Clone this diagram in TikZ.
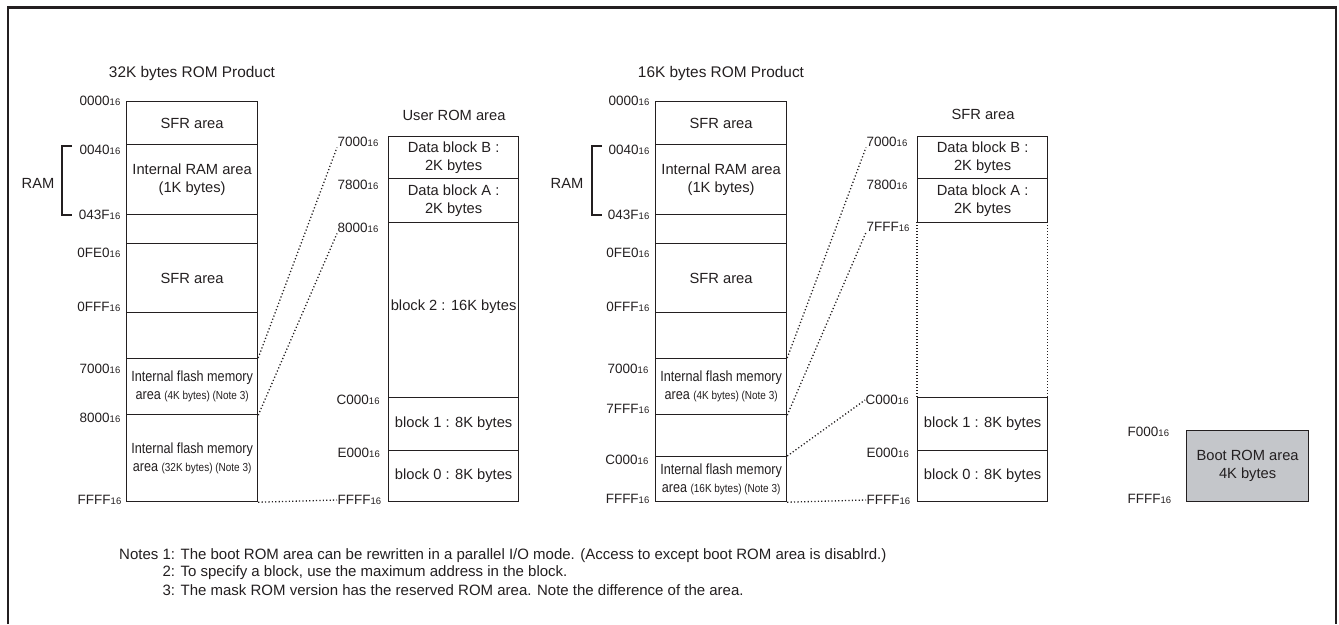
\documentclass[tikz,border=0pt]{standalone}
\usepackage{graphicx}
\usepackage{fontspec}
\setmainfont{Liberation Sans}
\definecolor{ink}{HTML}{231F20}
\definecolor{bootgray}{HTML}{C4C6CA}
\newcommand\myfs[2][]{\fontsize{#2}{18}\selectfont}
\newcommand\hexa[1]{#1{\fontsize{9.5}{10}\selectfont 16}}
\newcommand\memrect[7][]{\node[mem,#1,anchor=north west,minimum width={#4pt-#2pt},minimum height={#5pt-#3pt}] (#6) at (#2,#3) {#7};}
\newcommand\flashtxt[1]{\scalebox{0.86}[1]{Internal flash memory}\\\scalebox{0.86}[1]{area {\fontsize{11.6}{12}\selectfont #1}}}
\begin{document}
\begin{tikzpicture}[x=1pt,y=-1pt,
  mem/.style={draw=ink,line width=1.2pt,rectangle,inner sep=0pt,align=center,font=\myfs{14.7},text=ink},
  addr/.style={inner sep=0.5pt,font=\myfs{13.5},text=ink},
  ttl/.style={inner sep=0pt,font=\myfs{14.7},text=ink},
  bigttl/.style={inner sep=0pt,font=\myfs{15.4},text=ink},
  conn/.style={draw=ink,line width=1.3pt,dash pattern=on 1.2pt off 2.2pt},
  side/.style={draw=ink,line width=1.3pt,dash pattern=on 1.2pt off 1.8pt},
  note/.style={inner sep=0pt,anchor=west,font=\myfs{15},text=ink}]
\useasboundingbox (0,0) rectangle (1339,624);
% frame
\draw[ink,line width=2.5pt] (8,624) -- (8,7.5) -- (1336,7.5) -- (1336,624);

% titles
\node[bigttl] (t1) at (192,74) {32K bytes ROM Product};
\node[ttl] (t2) at (454,115) {User ROM area};
\node[bigttl] (t3) at (721,74) {16K bytes ROM Product};
\node[ttl] (t4) at (983,114) {SFR area};

% column 1
\memrect{126}{101}{257}{144}{c1sfr}{SFR area}
\memrect{126}{144}{257}{214}{c1ram}{Internal RAM area\\(1K bytes)}
\memrect{126}{214}{257}{243}{c1gapa}{}
\memrect{126}{243}{257}{312}{c1sfrb}{SFR area}
\memrect{126}{312}{257}{358}{c1gapb}{}
\memrect{126}{358}{257}{414}{c1fl}{\raisebox{-3pt}{\begin{tabular}{@{}c@{}}\flashtxt{(4K bytes) (Note 3)}\end{tabular}}}
\memrect{126}{414}{257}{501}{c1flb}{\flashtxt{(32K bytes) (Note 3)}}

\node[addr,anchor=east] (a1a) at (121,101) {\hexa{0000}};
\node[addr,anchor=east] (a1b) at (121,150) {\hexa{0040}};
\node[addr,anchor=east] (a1c) at (121,215) {\hexa{043F}};
\node[addr,anchor=east] (a1d) at (121,253) {\hexa{0FE0}};
\node[addr,anchor=east] (a1e) at (121,307) {\hexa{0FFF}};
\node[addr,anchor=east] (a1f) at (121,369) {\hexa{7000}};
\node[addr,anchor=east] (a1g) at (121,418) {\hexa{8000}};
\node[addr,anchor=east] (a1h) at (122,500) {\hexa{FFFF}};
\node[ttl] (ram1) at (38,183) {RAM};
\draw[ink,line width=1.2pt] (72,146) -- (62,146) -- (62,215) -- (72,215);

% column 2
\memrect{388}{136}{518}{178}{c2b}{Data block B :\\2K bytes}
\memrect{388}{178}{518}{222}{c2a}{Data block A :\\2K bytes}
\memrect{388}{222}{518}{397}{c2k2}{\raisebox{10pt}{block 2 : 16K bytes}}
\memrect{388}{397}{518}{450}{c2k1}{block 1 : 8K bytes}
\memrect{388}{450}{518}{501}{c2k0}{block 0 : 8K bytes}

\node[addr,anchor=west] (a2a) at (337,142) {\hexa{7000}};
\node[addr,anchor=west] (a2b) at (337,185) {\hexa{7800}};
\node[addr,anchor=west] (a2c) at (337,228) {\hexa{8000}};
\node[addr,anchor=west] (a2d) at (336,400) {\hexa{C000}};
\node[addr,anchor=west] (a2e) at (337,453) {\hexa{E000}};
\node[addr,anchor=west] (a2f) at (337,500) {\hexa{FFFF}};

\draw[conn] (c1fl.north east) -- (a2a.south west);
\draw[conn] (c1fl.south east) -- (a2c.south west);
\draw[conn] (c1flb.south east) -- (a2f.west);

% column 3
\memrect{655}{101}{786}{144}{c3sfr}{SFR area}
\memrect{655}{144}{786}{214}{c3ram}{Internal RAM area\\(1K bytes)}
\memrect{655}{214}{786}{243}{c3gapa}{}
\memrect{655}{243}{786}{312}{c3sfrb}{SFR area}
\memrect{655}{312}{786}{358}{c3gapb}{}
\memrect{655}{358}{786}{414}{c3fl}{\raisebox{-3pt}{\begin{tabular}{@{}c@{}}\flashtxt{(4K bytes) (Note 3)}\end{tabular}}}
\memrect{655}{414}{786}{456}{c3gapc}{}
\memrect{655}{456}{786}{501}{c3flb}{\flashtxt{(16K bytes) (Note 3)}}

\node[addr,anchor=east] (a3a) at (650,101) {\hexa{0000}};
\node[addr,anchor=east] (a3b) at (650,150) {\hexa{0040}};
\node[addr,anchor=east] (a3c) at (650,215) {\hexa{043F}};
\node[addr,anchor=east] (a3d) at (650,253) {\hexa{0FE0}};
\node[addr,anchor=east] (a3e) at (650,307) {\hexa{0FFF}};
\node[addr,anchor=east] (a3f) at (649,369) {\hexa{7000}};
\node[addr,anchor=east] (a3g) at (650,409) {\hexa{7FFF}};
\node[addr,anchor=east] (a3h) at (649,460) {\hexa{C000}};
\node[addr,anchor=east] (a3i) at (650,499) {\hexa{FFFF}};
\node[ttl] (ram3) at (567,183) {RAM};
\draw[ink,line width=1.2pt] (602,146) -- (592,146) -- (592,215) -- (602,215);

% column 4
\memrect{917}{136}{1047}{178}{c4b}{Data block B :\\2K bytes}
\memrect{917}{178}{1047}{222}{c4a}{Data block A :\\2K bytes}
\node[inner sep=0pt,anchor=north west,minimum width=130pt,minimum height=175pt] (c4mid) at (917,222) {};
\memrect{917}{397}{1047}{450}{c4k1}{block 1 : 8K bytes}
\memrect{917}{450}{1047}{501}{c4k0}{block 0 : 8K bytes}
\draw[side] (c4mid.north west) -- (c4mid.south west);
\draw[side] (c4mid.north east) -- (c4mid.south east);

\node[addr,anchor=west] (a4a) at (866,142) {\hexa{7000}};
\node[addr,anchor=west] (a4b) at (866,185) {\hexa{7800}};
\node[addr,anchor=west] (a4c) at (866,227) {\hexa{7FFF}};
\node[addr,anchor=west] (a4d) at (865,400) {\hexa{C000}};
\node[addr,anchor=west] (a4e) at (866,453) {\hexa{E000}};
\node[addr,anchor=west] (a4f) at (866,500) {\hexa{FFFF}};

\draw[conn] (c3fl.north east) -- (a4a.south west);
\draw[conn] (c3fl.south east) -- (a4c.south west);
\draw[conn] (c3flb.north east) -- (a4d.west);
\draw[conn] (c3flb.south east) -- (a4f.west);

% boot ROM
\memrect[fill=bootgray]{1186}{430}{1308}{501}{boot}{Boot ROM area\\4K bytes}
\node[addr,anchor=west] (a5a) at (1127,432) {\hexa{F000}};
\node[addr,anchor=west] (a5b) at (1127,499) {\hexa{FFFF}};

% notes
\node[note] (n1) at (119,556) {Notes 1: The boot ROM area can be rewritten in a parallel I/O mode. (Access to except boot ROM area is disablrd.)};
\node[note] (n2) at (119,573) {\phantom{Notes }2: To specify a block, use the maximum address in the block.};
\node[note] (n3) at (119,590) {\phantom{Notes }3: The mask ROM version has the reserved ROM area. Note the difference of the area.};
\end{tikzpicture}
\end{document}
